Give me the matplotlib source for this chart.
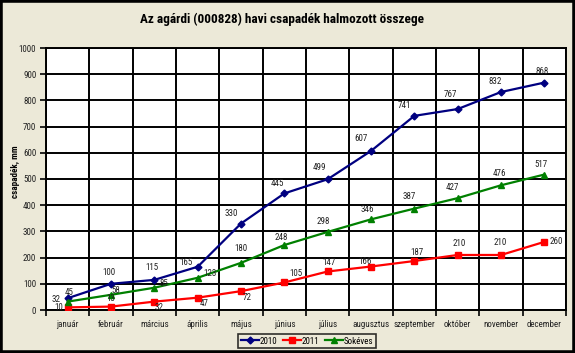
import matplotlib
matplotlib.use("Agg")
import matplotlib.pyplot as plt
from matplotlib.patches import Rectangle

months = ["január", "február", "március", "április", "május", "június",
          "július", "augusztus", "szeptember", "október", "november", "december"]
y2010 = [45, 100, 115, 165, 330, 445, 499, 607, 741, 767, 832, 868]
y2011 = [10, 13, 32, 47, 72, 105, 147, 166, 187, 210, 210, 260]
ysok = [32, 58, 85, 123, 180, 248, 298, 346, 387, 427, 476, 517]
yticks = [0, 100, 200, 300, 400, 500, 600, 700, 800, 900, 1000]

BG = "#ECE9D8"
plt.rcParams['font.family'] = ['Roboto Condensed', 'Liberation Sans', 'DejaVu Sans']

fig = plt.figure(figsize=(5.75, 3.53), dpi=100, facecolor=BG)
fig.patches.append(Rectangle((0, 0), 1, 1, transform=fig.transFigure, fill=False,
                             edgecolor="black", linewidth=4, zorder=10))
W, H = 575, 353
ax = fig.add_axes([46 / W, 1 - 310 / H, 520 / W, 262 / H])
ax.set_facecolor("white")

x = list(range(len(months)))
l1, = ax.plot(x, y2010, color="#000080", marker="D", markersize=3.5, linewidth=1.6, label="2010", zorder=4)
l2, = ax.plot(x, y2011, color="#FF0000", marker="s", markersize=4.5, linewidth=1.6, label="2011", zorder=4)
l3, = ax.plot(x, ysok, color="#008000", marker="^", markersize=4.5, linewidth=1.6, label="Sokéves", zorder=4)

ax.set_xlim(-0.5, len(months) - 0.5)
ax.set_ylim(0, 1000)
ax.set_yticks(yticks)
ax.set_yticklabels([str(v) for v in yticks], fontsize=6.5, color="#222222")
ax.set_xticks(x)
ax.set_xticklabels(months, fontsize=6.5, color="#222222")
ax.tick_params(axis="x", length=0, pad=7)
ax.set_xticks([i - 0.5 for i in range(len(months) + 1)], minor=True)
ax.tick_params(axis="x", which="minor", length=4, width=1.2, direction="out")
ax.tick_params(axis="y", length=4, width=1.2, direction="out", pad=3)
for v in yticks:
    ax.axhline(v, color="black", linewidth=1.4, zorder=1)
for i in range(len(months) + 1):
    ax.axvline(i - 0.5, color="black", linewidth=1.4, zorder=1)
for s in ax.spines.values():
    s.set_linewidth(1.4)

fig.text(16 / W, 1 - 172 / H, "csapadék, mm", rotation=90, ha="center", va="center",
         fontsize=6.5, fontweight="bold")
fig.text(282 / W, 1 - 19 / H, "Az agárdi (000828) havi csapadék halmozott összege",
         ha="center", va="center", fontsize=9.5, fontweight="bold")

# data label offsets in pixels (dx right, dy up) from each point
off2010 = [(1, 6), (-2, 11), (-2, 12), (-12, 4), (-10, 10), (-7, 10),
           (-8, 12), (-10, 12), (-10, 10), (-7, 15), (-6, 11), (-2, 11)]
off2011 = [(-9, 0), (0, 8), (5, -6), (7, -6), (6, -6), (12, 9),
           (1, 9), (-6, 5), (3, 9), (2, 11), (-1, 12), (12, 0)]
offsok = [(-12, 2), (5, 4), (10, 4), (12, 4), (0, 14), (-3, 8),
          (-4, 10), (-4, 10), (-5, 12), (-5, 11), (-2, 12), (-3, 10)]
for vals, offs in ((y2010, off2010), (y2011, off2011), (ysok, offsok)):
    for i, v in enumerate(vals):
        dx, dy = offs[i]
        ax.annotate(str(v), (i, v), xytext=(dx, dy), textcoords="offset pixels",
                    ha="center", va="center", fontsize=6.5, color="#222222", zorder=5)

leg = fig.legend(handles=[l1, l2, l3], loc="center", bbox_to_anchor=(307 / W, 1 - 341 / H),
                 ncol=3, fontsize=6.5, frameon=True, fancybox=False, handlelength=2.0,
                 handletextpad=0.1, columnspacing=0.6, borderpad=0.3)
leg.get_frame().set_edgecolor("black")
leg.get_frame().set_facecolor(BG)
leg.get_frame().set_linewidth(1.2)

fig.savefig("out.png", dpi=100, facecolor=BG)
